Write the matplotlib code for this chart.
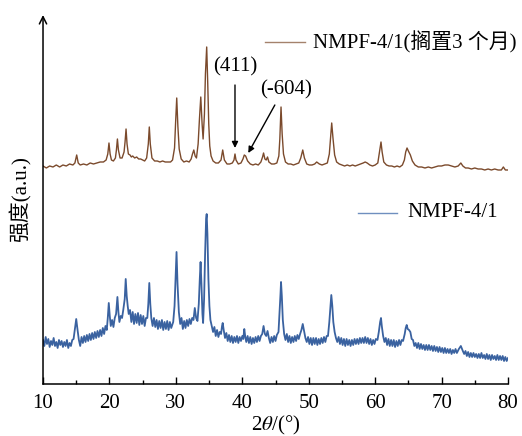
import numpy as np
import matplotlib.pyplot as plt
from matplotlib.ticker import MultipleLocator

plt.rcParams['font.family'] = ['Liberation Serif', 'Noto Sans CJK SC']
plt.rcParams['mathtext.fontset'] = 'stix'

# XRD pattern, fresh sample (2theta, intensity a.u.)
fresh_2theta = [
    10.0, 10.2, 10.4, 10.6, 10.8, 11.0, 11.2, 11.4, 11.6, 11.8, 12.0, 12.2, 12.4, 12.6, 12.8, 13.0, 13.2, 13.4,
    13.6, 13.8, 14.0, 14.2, 14.4, 14.6, 14.8, 15.0, 15.2, 15.4, 15.6, 15.8, 16.0, 16.2, 16.4, 16.6, 16.8, 17.0,
    17.2, 17.4, 17.6, 17.8, 18.0, 18.2, 18.4, 18.6, 18.8, 19.0, 19.2, 19.4, 19.6, 19.75, 19.9, 20.05, 20.2, 20.4,
    20.6, 20.8, 21.0, 21.1, 21.2, 21.35, 21.5, 21.7, 21.9, 22.1, 22.3, 22.45, 22.6, 22.75, 22.9, 23.1, 23.3, 23.5,
    23.7, 23.9, 24.1, 24.3, 24.5, 24.7, 24.9, 25.1, 25.3, 25.5, 25.7, 25.85, 26.0, 26.15, 26.3, 26.5, 26.7, 26.9,
    27.1, 27.3, 27.5, 27.7, 27.9, 28.1, 28.3, 28.5, 28.7, 28.9, 29.1, 29.3, 29.6, 29.8, 29.95, 30.1, 30.25, 30.45,
    30.65, 30.85, 31.05, 31.25, 31.45, 31.65, 31.85, 32.05, 32.25, 32.45, 32.65, 32.85, 33.05, 33.25, 33.45, 33.6,
    33.72, 33.85, 34.0, 34.1, 34.25, 34.4, 34.55, 34.64, 34.75, 34.9, 35.05, 35.2, 35.4, 35.6, 35.8, 36.0, 36.2,
    36.4, 36.6, 36.8, 36.95, 37.05, 37.2, 37.4, 37.6, 37.8, 38.0, 38.2, 38.4, 38.6, 38.8, 39.0, 39.2, 39.4, 39.6,
    39.8, 40.0, 40.15, 40.3, 40.45, 40.6, 40.8, 41.0, 41.2, 41.4, 41.6, 41.8, 42.0, 42.2, 42.4, 42.6, 42.8, 43.0,
    43.2, 43.4, 43.6, 43.8, 44.0, 44.2, 44.4, 44.6, 44.8, 45.0, 45.2, 45.45, 45.6, 45.75, 45.83, 45.95, 46.1, 46.3,
    46.5, 46.7, 46.9, 47.1, 47.3, 47.5, 47.7, 47.9, 48.1, 48.3, 48.5, 48.7, 48.9, 49.1, 49.3, 49.5, 49.7, 49.9,
    50.1, 50.3, 50.5, 50.7, 50.9, 51.1, 51.3, 51.5, 51.7, 51.9, 52.1, 52.3, 52.5, 52.7, 52.9, 53.1, 53.25, 53.4,
    53.55, 53.7, 53.9, 54.1, 54.3, 54.5, 54.7, 54.9, 55.1, 55.3, 55.5, 55.7, 55.9, 56.1, 56.3, 56.5, 56.7, 56.9,
    57.1, 57.3, 57.5, 57.7, 57.9, 58.1, 58.3, 58.5, 58.7, 58.9, 59.1, 59.3, 59.5, 59.7, 59.9, 60.1, 60.35, 60.55,
    60.75, 60.88, 61.0, 61.2, 61.4, 61.6, 61.8, 62.0, 62.2, 62.4, 62.6, 62.8, 63.0, 63.2, 63.4, 63.6, 63.8, 64.0,
    64.2, 64.45, 64.6, 64.75, 64.9, 65.1, 65.3, 65.5, 65.7, 65.9, 66.1, 66.3, 66.5, 66.7, 66.9, 67.1, 67.3, 67.5,
    67.7, 67.9, 68.1, 68.3, 68.5, 68.7, 68.9, 69.1, 69.3, 69.5, 69.7, 69.9, 70.1, 70.3, 70.5, 70.7, 70.9, 71.1,
    71.3, 71.5, 71.7, 71.9, 72.1, 72.3, 72.6, 72.9, 73.2, 73.4, 73.6, 73.8, 74.0, 74.2, 74.4, 74.6, 74.8, 75.0,
    75.2, 75.4, 75.6, 75.8, 76.0, 76.2, 76.4, 76.6, 76.8, 77.0, 77.2, 77.4, 77.6, 77.8, 78.0, 78.2, 78.4, 78.6,
    78.8, 79.0, 79.2, 79.4, 79.6, 79.8, 80.0,
]
fresh_int = [
    44, 38, 47, 40, 45, 37, 43, 39, 46, 38, 42, 36, 44, 39, 43, 37, 42, 38,
    44, 36, 41, 38, 44, 45, 55, 65, 54, 44, 38, 47, 41, 48, 42, 49, 43, 50,
    44, 51, 45, 52, 46, 53, 47, 54, 48, 56, 50, 58, 54, 66, 81, 68, 58, 64,
    57, 66, 70, 78, 87, 72, 62, 68, 66, 75, 85, 105, 88, 78, 70, 74, 62, 72,
    60, 70, 61, 71, 59, 69, 60, 68, 58, 66, 66, 80, 101, 80, 66, 58, 66, 57,
    64, 55, 63, 56, 64, 54, 62, 55, 63, 54, 62, 56, 62, 78, 105, 132, 100, 72,
    60, 66, 55, 63, 56, 64, 58, 65, 60, 66, 64, 76, 66, 63, 80, 105,
    122, 100, 70, 61, 85, 130, 165, 170, 150, 105, 78, 64, 58, 52, 57, 48, 54,
    47, 52, 50, 58, 61, 54, 46, 51, 43, 49, 42, 48, 41, 47, 42, 48, 41, 47,
    43, 48, 45, 55, 47, 42, 48, 41, 47, 40, 46, 41, 47, 42, 48, 43, 48, 50,
    58, 50, 48, 53, 46, 41, 47, 42, 48, 43, 49, 52, 70, 90, 102, 88, 64, 50,
    44, 50, 42, 48, 41, 47, 42, 48, 43, 49, 45, 50, 54, 60, 53, 46, 42, 47,
    40, 46, 39, 46, 40, 46, 39, 45, 40, 46, 41, 47, 42, 48, 48, 62, 76, 89,
    78, 62, 52, 46, 42, 47, 40, 46, 39, 45, 38, 45, 39, 44, 38, 44, 39, 45,
    40, 45, 40, 46, 41, 46, 41, 47, 41, 46, 40, 45, 39, 44, 40, 45, 44, 52,
    62, 66, 58, 48, 42, 46, 39, 45, 38, 44, 38, 44, 37, 43, 38, 44, 39, 44,
    43, 50, 56, 59, 55, 54, 52, 45, 44, 38, 41, 36, 41, 35, 40, 35, 39, 34,
    39, 34, 39, 34, 38, 33, 38, 33, 37, 32, 37, 32, 36, 31, 36, 31, 35, 31,
    35, 30, 34, 31, 35, 31, 35, 38, 33, 30, 33, 28, 32, 27, 31, 27, 31, 27,
    30, 26, 30, 26, 31, 26, 29, 25, 30, 25, 29, 24, 29, 25, 28, 24, 29, 24,
    28, 24, 28, 23, 27, 23, 26,
]

# XRD pattern after 3 months of storage
aged_2theta = [
    10.0, 10.5, 11.0, 11.5, 12.0, 12.5, 13.0, 13.5, 14.0, 14.5, 14.8, 15.07, 15.3, 15.6, 16.1, 16.6, 17.1, 17.6,
    18.1, 18.6, 19.1, 19.5, 19.75, 19.93, 20.1, 20.3, 20.6, 20.9, 21.05, 21.2, 21.35, 21.6, 21.9, 22.2, 22.35,
    22.5, 22.65, 22.85, 23.1, 23.3, 23.5, 23.8, 24.1, 24.4, 24.7, 25.0, 25.3, 25.6, 25.85, 26.0, 26.15, 26.4,
    26.8, 27.2, 27.6, 28.0, 28.4, 28.8, 29.2, 29.5, 29.8, 29.95, 30.13, 30.3, 30.5, 30.8, 31.2, 31.6, 32.0, 32.3,
    32.5, 32.7, 32.9, 33.1, 33.35, 33.55, 33.75, 33.95, 34.1, 34.3, 34.45, 34.64, 34.8, 34.95, 35.1, 35.3, 35.6,
    36.0, 36.4, 36.8, 37.05, 37.3, 37.7, 38.1, 38.5, 38.75, 38.9, 39.05, 39.4, 39.8, 40.1, 40.3, 40.5, 40.8,
    41.2, 41.6, 42.0, 42.4, 42.8, 43.05, 43.2, 43.4, 43.6, 43.8, 44.0, 44.4, 44.8, 45.2, 45.5, 45.65, 45.83,
    46.0, 46.2, 46.5, 46.9, 47.3, 47.7, 48.1, 48.5, 48.8, 49.1, 49.35, 49.7, 50.1, 50.5, 50.9, 51.2, 51.6, 52.0,
    52.4, 52.8, 53.1, 53.3, 53.46, 53.65, 53.9, 54.2, 54.6, 55.0, 55.4, 55.8, 56.2, 56.6, 57.0, 57.4, 57.8,
    58.2, 58.5, 58.8, 59.2, 59.6, 60.0, 60.4, 60.65, 60.88, 61.05, 61.3, 61.7, 62.1, 62.5, 62.9, 63.3, 63.7,
    64.1, 64.4, 64.6, 64.8, 65.0, 65.3, 65.6, 66.0, 66.5, 67.0, 67.5, 68.0, 68.5, 69.0, 69.5, 70.0, 70.5, 71.0,
    71.5, 72.0, 72.5, 72.9, 73.2, 73.6, 74.0, 74.5, 75.0, 75.5, 76.0, 76.5, 77.0, 77.5, 78.0, 78.5, 79.0, 79.3,
    79.6, 80.0,
]
aged_int = [
    218, 216, 218, 217, 219, 217, 219, 218, 220, 219, 221, 229, 221, 219, 220, 219, 221, 220,
    221, 222, 222, 224, 230, 241, 230, 224, 223, 226, 234, 245, 234, 226, 226, 232, 242,
    255, 240, 230, 229, 227, 228, 226, 227, 225, 225, 224, 223, 226, 240, 257, 240, 226,
    223, 223, 222, 223, 222, 222, 222, 224, 236, 260, 286, 258, 235, 225, 222, 223, 222, 225,
    230, 234, 228, 226, 240, 265, 287, 260, 245, 270, 310, 337, 300, 260, 238, 228, 223,
    221, 221, 224, 234, 224, 220, 220, 221, 224, 230, 224, 220, 221, 225, 229, 228, 223,
    220, 219, 220, 219, 222, 227, 231, 225, 224, 227, 222, 220, 220, 221, 228, 245, 277,
    250, 230, 222, 220, 220, 219, 220, 221, 226, 234, 226, 220, 219, 219, 220, 222, 220, 219,
    220, 221, 230, 248, 261, 246, 229, 222, 220, 219, 218, 219, 218, 219, 218, 219, 220,
    221, 222, 221, 219, 218, 219, 221, 232, 242, 232, 222, 219, 218, 218, 217, 218, 217,
    219, 224, 232, 236, 233, 229, 223, 219, 217, 217, 216, 217, 216, 217, 218, 218, 219, 219,
    218, 217, 218, 221, 218, 216, 216, 215, 216, 215, 215, 214, 215, 214, 215, 214, 214, 217,
    214, 214,
]

labels = ['NMPF-4/1', 'NMPF-4/1(搁置3 个月)']
colors = ['#3a62a0', '#7b4a2c']
legend_colors = ['#6f8fbf', '#a4826c']
fs = 15

fig = plt.figure(figsize=(5.22, 4.36), dpi=100)
ax = fig.add_axes([0.0824, 0.1193, 0.8908, 0.8463])

ax.plot(fresh_2theta, fresh_int, color=colors[0], lw=1.3)
ax.plot(aged_2theta, aged_int, color=colors[1], lw=1.0)

# legend entries drawn by hand next to each pattern
ax.plot([57.4, 63.3], [171, 171], color=legend_colors[0], lw=1.0, clip_on=False)
ax.text(64.8, 171, labels[0], fontsize=fs, va='center', ha='left')
ax.plot([43.4, 49.4], [342, 342], color=legend_colors[1], lw=1.0, clip_on=False)
ax.text(50.6, 342, labels[1], fontsize=fs, va='center', ha='left')

# reflections marked on the aged sample
ax.annotate('', xy=(38.9, 236), xytext=(38.9, 299),
            arrowprops=dict(arrowstyle='-|>', color='black', lw=1.0, mutation_scale=9,
                            shrinkA=0, shrinkB=0))
ax.text(38.95, 317, '(411)', fontsize=fs, ha='center', va='center')
ax.annotate('', xy=(40.9, 231), xytext=(44.9, 279),
            arrowprops=dict(arrowstyle='-|>', color='black', lw=1.0, mutation_scale=9,
                            shrinkA=0, shrinkB=0))
ax.text(46.6, 294, '(-604)', fontsize=fs, ha='center', va='center')

ax.set_xlim(10, 80)
ax.set_ylim(0, 369)
ax.xaxis.set_major_locator(MultipleLocator(10))
ax.xaxis.set_minor_locator(MultipleLocator(5))
ax.tick_params(axis='x', which='major', direction='in', length=5, width=1.0, labelsize=fs, pad=7)
ax.tick_params(axis='x', which='minor', direction='in', length=3, width=1.0)
ax.set_yticks([])

for side in ['top', 'right', 'left']:
    ax.spines[side].set_visible(False)
ax.spines['bottom'].set_linewidth(1.1)

# y axis drawn as an arrow
ax.annotate('', xy=(0, 1.0), xytext=(0, 0), xycoords='axes fraction',
            arrowprops=dict(arrowstyle='->', color='black', lw=1.1, mutation_scale=13,
                            shrinkA=0, shrinkB=0))

ax.set_xlabel(r'2$\theta$/(°)', fontsize=fs, labelpad=1)
ax.set_ylabel('强度(a.u.)', fontsize=fs, labelpad=8)

fig.savefig('out.png', dpi=100)
